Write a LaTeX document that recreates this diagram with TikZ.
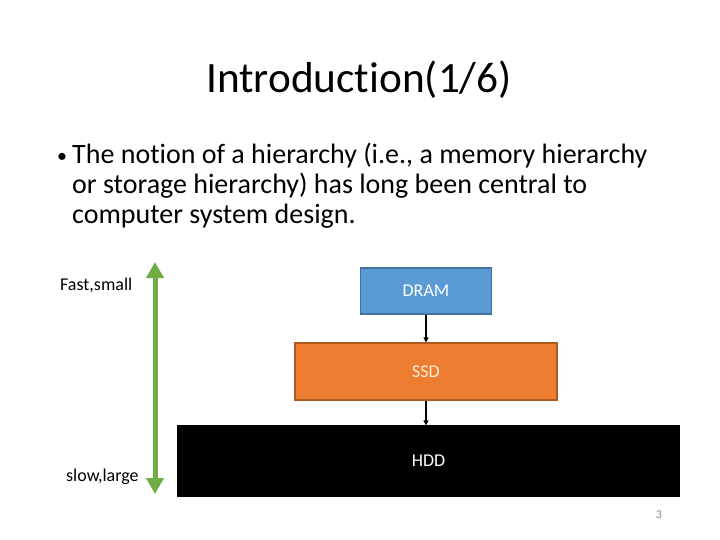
\documentclass[tikz,border=0pt]{standalone}
\usepackage{fontspec}
\setmainfont{Carlito}[Ligatures={NoCommon}]
\usetikzlibrary{arrows.meta}
\definecolor{dramfill}{HTML}{5B9BD5}
\definecolor{dramline}{HTML}{41719C}
\definecolor{ssdfill}{HTML}{ED7D31}
\definecolor{ssdline}{HTML}{AE5A21}
\definecolor{arrgreen}{HTML}{70AD47}
\definecolor{pgnum}{HTML}{8C8C8C}
\tikzset{
  box/.style={rectangle, inner sep=0pt, line width=1.2pt, font=\fontsize{18}{20}\selectfont},
  lbl/.style={inner sep=0pt, font=\fontsize{18}{20}\selectfont},
  link/.style={-{Triangle[length=5pt,width=5pt]}, line width=1.2pt}
}
\begin{document}
\begin{tikzpicture}[x=1pt,y=-1pt]
\useasboundingbox[fill=white] (0,0) rectangle (720,540);
\node[inner sep=0pt, font=\fontsize{43.3}{50}\selectfont] (title) at (359,80) {Introduction(1/6)};
\node[inner sep=0pt, anchor=north west, align=left, font=\fontsize{28}{30}\selectfont] (body) at (57,143)
  {\makebox[15pt][l]{\raisebox{1pt}{\fontsize{20}{20}\selectfont•}}The notion of a hierarchy (i.e., a memory hierarchy\\
   \hspace*{15pt}or storage hierarchy) has long been central to\\
   \hspace*{15pt}computer system design.};
\node[lbl, anchor=west] (fast) at (60,285) {Fast,small};
\node[lbl, anchor=west] (slow) at (66,477) {slow,large};
\coordinate (gtop) at (155,262);
\coordinate (gbot) at (155,494);
\draw[arrgreen, line width=5pt, {Triangle[length=16pt,width=17pt]}-{Triangle[length=16pt,width=17pt]}] (gtop) -- (gbot);
\node[box, fill=dramfill, draw=dramline, minimum width=131pt, minimum height=46pt, text=white] (dram) at (426,291) {DRAM};
\node[box, fill=ssdfill, draw=ssdline, minimum width=262pt, minimum height=57pt, text={rgb,255:red,255;green,240;blue,220}] (ssd) at (426,371.5) {SSD};
\node[box, fill=black, draw=black, minimum width=501pt, minimum height=70pt, text=white] (hdd) at (428.5,461) {HDD};
\draw[link] (dram.south) -- (ssd.north);
\draw[link] (ssd.south) -- (ssd.south |- hdd.north);
\node[inner sep=0pt, text=pgnum, font=\fontsize{12}{14}\selectfont] (pg) at (659,515) {3};
\end{tikzpicture}
\end{document}
